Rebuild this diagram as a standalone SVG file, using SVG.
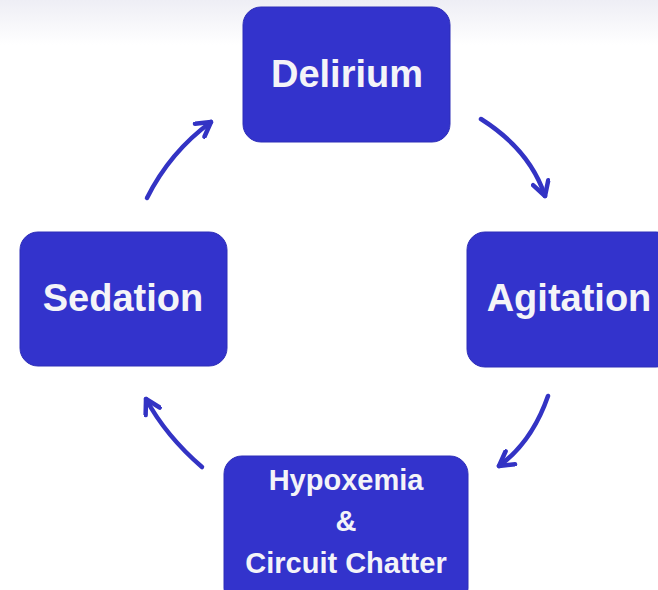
<svg xmlns="http://www.w3.org/2000/svg" width="658" height="590" viewBox="0 0 658 590">
<defs>
<linearGradient id="topfade" x1="0" y1="0" x2="0" y2="1">
<stop offset="0" stop-color="#eeeef5"/>
<stop offset="1" stop-color="#ffffff"/>
</linearGradient>
<marker id="head" viewBox="0 0 20 20" refX="17" refY="10" markerWidth="20" markerHeight="20" markerUnits="userSpaceOnUse" orient="auto">
<path d="M3,2 L17,10 L3,18" fill="none" stroke="#3333c4" stroke-width="4.5" stroke-linecap="round" stroke-linejoin="round"/>
</marker>
</defs>
<style>
.box{fill:#3333cc;stroke:#2e2eb8;stroke-width:1}
.lbl{font-family:"Liberation Sans",Arial,sans-serif;font-weight:bold;fill:#f4f4f8;text-anchor:middle}
.big{font-size:38px}
.small{font-size:29px}
.arr{fill:none;stroke:#3333c4;stroke-width:4.5;stroke-linecap:round;marker-end:url(#head)}
</style>
<rect x="0" y="0" width="658" height="45" fill="url(#topfade)"/>
<rect x="0" y="45" width="658" height="545" fill="#ffffff"/>
<g id="connectors">
<path class="arr" d="M481,119 Q530,150 545,196"/>
<path class="arr" d="M548,396 Q532,442 499,466"/>
<path class="arr" d="M202,467 Q166,436 146,399"/>
<path class="arr" d="M147,198 Q170,152 211,122"/>
</g>
<g id="delirium">
<rect class="box" x="243" y="7" width="207" height="135" rx="18"/>
<text class="lbl big" x="347" y="87">Delirium</text>
</g>
<g id="agitation">
<rect class="box" x="467" y="232" width="207" height="135" rx="18"/>
<text class="lbl big" x="569" y="311">Agitation</text>
</g>
<g id="sedation">
<rect class="box" x="20" y="232" width="207" height="134" rx="18"/>
<text class="lbl big" x="123" y="311">Sedation</text>
</g>
<g id="hypoxemia">
<rect class="box" x="224" y="456" width="244" height="150" rx="18"/>
<text class="lbl small" x="346" y="490">Hypoxemia</text>
<text class="lbl small" x="346" y="531">&amp;</text>
<text class="lbl small" x="346" y="573">Circuit Chatter</text>
</g>
</svg>
